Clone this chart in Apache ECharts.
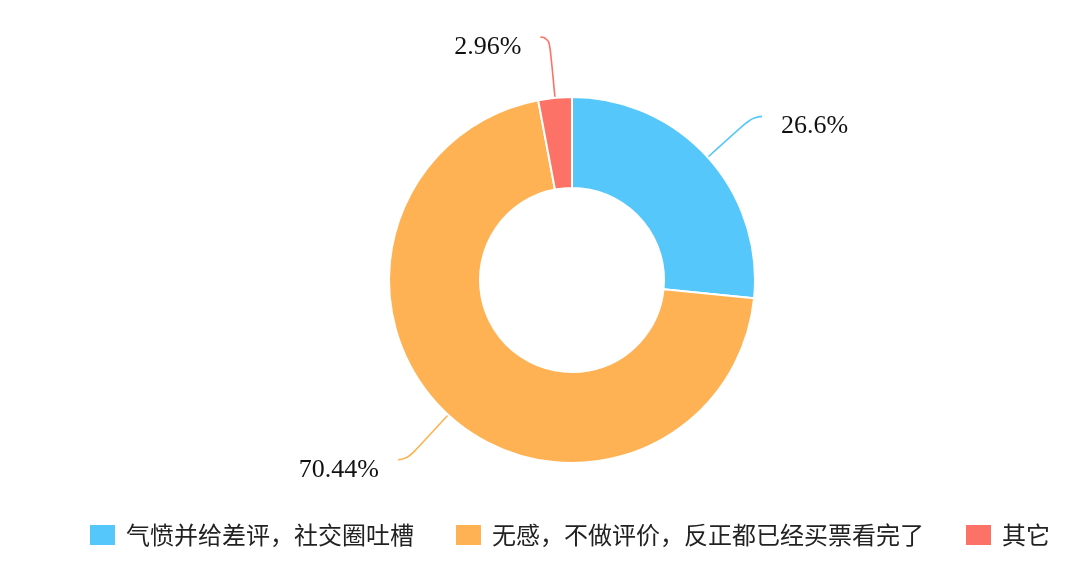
<!DOCTYPE html>
<html>
<head>
<meta charset="utf-8">
<script src="https://cdn.jsdelivr.net/npm/echarts@6/dist/echarts.min.js"></script>
<style>
  html, body { margin: 0; padding: 0; background: #fff; }
  #chart { width: 1080px; height: 584px; }
</style>
</head>
<body>
<div id="chart"></div>
<script>
// categories and values
var categories = ['气愤并给差评，社交圈吐槽', '无感，不做评价，反正都已经买票看完了', '其它'];
var values = [26.6, 70.44, 2.96];
var colors = ['#56c7fa', '#feb254', '#fc7267'];

var myChart = echarts.init(document.getElementById('chart'));
var options = {
    color: colors,
    legend: {
        data: categories,
        top: 518,
        left: 83,
        itemWidth: 27,
        itemHeight: 22,
        itemGap: 40,
        icon: 'rect',
        textStyle: {
            fontSize: 24,
            color: '#222',
            padding: [0, 0, 0, 5],
            fontFamily: 'Noto Sans CJK SC'
        }
    },
    series: [{
        type: 'pie',
        center: [572, 280],
        radius: [92, 183],
        startAngle: 90,
        itemStyle: {
            borderColor: '#fff',
            borderWidth: 2
        },
        label: {
            // empty first line pushes the value a little below the line end
            formatter: '\n{c}%',
            fontSize: 26,
            lineHeight: 20,
            color: '#111',
            distanceToLabelLine: 19,
            fontFamily: 'Liberation Serif'
        },
        labelLine: {
            length: 61,
            length2: 9,
            smooth: 0.6,
            lineStyle: { width: 1.6 }
        },
        data: []
    }]
};

for (var i = 0; i < categories.length; i++) {
    options.series[0].data.push({ name: categories[i], value: values[i] });
}
myChart.setOption(options, true);
</script>
</body>
</html>
